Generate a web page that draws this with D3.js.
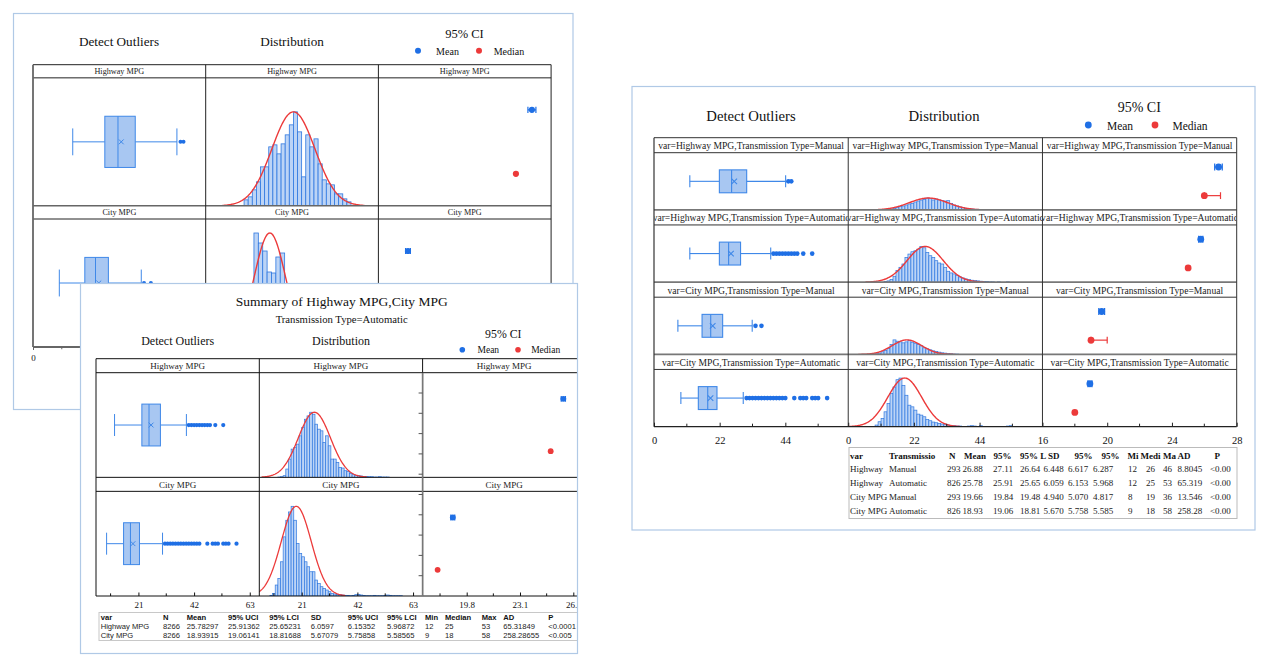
<!DOCTYPE html>
<html><head><meta charset="utf-8">
<script src="https://cdn.jsdelivr.net/npm/d3@7"></script>
<style>html,body{margin:0;padding:0;background:#fff;}svg{display:block;}</style>
</head><body>
<svg id="chart" width="1269" height="666"></svg>
<script>
// ================= DATA =================
// --- back panel (partly hidden) ---
const backVars = ["Highway MPG", "City MPG"];
const backBoxStats = [[14.5, 26.2, 31.0, 37.3, 52.5], [9.6, 18.9, 22.8, 27.5, 39.5]]; // whiskerLo, Q1, median, Q3, whiskerHi
const backBoxMean = [32.2, 24.0];
const backOutliers = [[53.8, 54.9], [40.5, 43.0]];
const backHistStart = [14, 17.6];
const backHistBin = [1.5, 1.6];
const backHistCounts = [
  [6, 9, 16, 24, 39, 39, 59, 61, 52, 62, 71, 81, 94, 74, 29, 71, 59, 67, 42, 26, 22, 21, 12, 12, 7, 4],
  [114, 104, 96, 75, 74, 90, 94]
];
const backFitMean = [32.0, 23.4];
const backFitSD = [7.85, 5.8];
const backMean = [26.0, 18.25];
const backMeanLo = [25.75, 18.1];
const backMeanHi = [26.25, 18.4];
const backMedian = [25, 17.2];
const backMedianLo = [25, 17.2];
const backMedianHi = [25, 17.2];
const backTicks = [0, 21, 42, 63];
const backMinorTicks = [10.5, 31.5, 52.5];

// --- front panel ---
const frontTitle = "Summary of Highway MPG,City MPG";
const frontSubtitle = "Transmission Type=Automatic";
const frontVars = ["Highway MPG", "City MPG"];
const frontBoxStats = [[12, 22.3, 25, 29.3, 39.1], [9, 15.4, 18, 21.4, 30.1]];
const frontMean = [25.78297, 18.93915];
const frontMeanLo = [25.65231, 18.81688];
const frontMeanHi = [25.91362, 19.06141];
const frontSD = [6.0597, 5.67079];
const frontMedian = [25, 18];
const frontMedianLo = [25, 18];
const frontMedianHi = [25, 18];
const frontOutliers = [
  [40, 41, 42, 43, 44, 45, 46, 47, 48, 50, 53],
  [31, 32, 33, 34, 35, 36, 37, 38, 39, 40, 41, 42, 43, 44, 47, 49, 50, 51, 53, 54, 55, 58]
];
const frontHistStart = [12, 9];
const frontHistCounts = [
  [1, 2, 5, 25, 55, 85, 90, 100, 125, 150, 175, 185, 196, 190, 160, 145, 140, 105, 125, 95, 55, 55, 45, 30, 28, 20, 18, 12, 8, 6, 5, 4, 3, 3, 2, 2, 1, 1, 2, 1, 1, 1],
  [2, 8, 33, 53, 103, 178, 228, 253, 270, 228, 158, 128, 118, 103, 88, 73, 73, 48, 38, 28, 23, 18, 13, 8, 6, 5, 4, 3, 2, 2, 1, 2, 4, 5, 3, 2, 1, 1, 1, 2, 1, 1, 1, 2, 3, 2, 1, 1, 1, 1]
];
const frontTicks = [21, 42, 63];
const frontMinorTicks = [10.5, 31.5, 52.5];
const frontCITicks = [19.8, 23.1, 26.4];
const frontCIMinorTicks = [18.15, 21.45, 24.75];
const frontCIAxisTicks = [1, 2, 3, 4, 5, 6, 7, 8, 9, 10];
const frontTableHead = ["var", "N", "Mean", "95% UCI", "95% LCI", "SD", "95% UCI", "95% LCI", "Min", "Median", "Max", "AD", "P"];
const frontTableRows = [
  ["Highway MPG", "8266", "25.78297", "25.91362", "25.65231", "6.0597", "6.15352", "5.96872", "12", "25", "53", "65.31849", "<0.0001"],
  ["City MPG", "8266", "18.93915", "19.06141", "18.81688", "5.67079", "5.75858", "5.58565", "9", "18", "58", "258.28655", "<0.005"]
];

// --- right panel ---
const rightVars = ["Highway MPG", "Highway MPG", "City MPG", "City MPG"];
const rightTrans = ["Manual", "Automatic", "Manual", "Automatic"];
const rightBoxStats = [
  [12, 21.9, 26, 31.05, 44.1],
  [12, 21.9, 25, 29.0, 39.1],
  [8, 16.1, 19, 23.0, 32.9],
  [9, 14.85, 18, 21.1, 29.9]
];
const rightMean = [26.88, 25.78, 19.66, 18.93];
const rightMeanLo = [26.64, 25.65, 19.48, 18.81];
const rightMeanHi = [27.11, 25.91, 19.84, 19.06];
const rightSD = [6.448, 6.059, 4.940, 5.670];
const rightMedian = [26, 25, 19, 18];
const rightMedianLo = [26, 25, 19, 18];
const rightMedianHi = [27, 25, 20, 18];
const rightOutliers = [
  [45, 46],
  [40, 41, 42, 43, 44, 45, 46, 47, 48, 50, 53],
  [34, 36],
  [31, 32, 33, 34, 35, 36, 37, 38, 39, 40, 41, 42, 43, 44, 47, 49, 50, 51, 53, 54, 55, 58]
];
const rightHistStart = [12, 12, 8, 9];
const rightHistCounts = [
  [1, 2, 3, 5, 7, 10, 12, 15, 18, 20, 24, 27, 30, 32, 36, 34, 30, 33, 30, 28, 27, 28, 20, 15, 12, 9, 7, 5, 4, 3, 2, 2, 1, 1, 1],
  [2, 4, 8, 18, 35, 45, 55, 75, 85, 92, 95, 100, 108, 104, 90, 80, 75, 65, 58, 55, 45, 33, 28, 25, 20, 16, 13, 10, 8, 6, 5, 4, 3, 2, 2, 1, 1, 0, 1, 0, 0, 1],
  [1, 2, 4, 8, 12, 18, 30, 44, 40, 38, 35, 38, 42, 37, 34, 30, 26, 20, 17, 14, 11, 9, 7, 5, 4, 3, 2, 1, 1],
  [5, 15, 25, 45, 70, 100, 120, 142, 147, 125, 95, 65, 60, 50, 38, 35, 30, 22, 18, 14, 12, 10, 8, 6, 5, 4, 3, 2, 2, 1, 1, 2, 3, 2, 1, 3, 1, 1, 1, 1, 1, 1, 1, 1, 2, 3, 1, 1, 1, 1]
];
const rightTicks = [0, 22, 44];
const rightMinorTicks = [11, 33, 55];
const rightCITicks = [16, 20, 24, 28];
const rightCIMinorTicks = [18, 22, 26];
const rightTableHead = ["var", "Transmissio", "N", "Mean", "95%", "95% L", "SD", "95%", "95%", "Mi", "Medi", "Ma", "AD", "P"];
const rightTableRows = [
  ["Highway", "Manual", "293", "26.88", "27.11", "26.64", "6.448", "6.617", "6.287", "12", "26", "46", "8.8045", "<0.00"],
  ["Highway", "Automatic", "826", "25.78", "25.91", "25.65", "6.059", "6.153", "5.968", "12", "25", "53", "65.319", "<0.00"],
  ["City MPG", "Manual", "293", "19.66", "19.84", "19.48", "4.940", "5.070", "4.817", "8", "19", "36", "13.546", "<0.00"],
  ["City MPG", "Automatic", "826", "18.93", "19.06", "18.81", "5.670", "5.758", "5.585", "9", "18", "58", "258.28", "<0.00"]
];

// ================= STYLE =================
const BLUE = "#1f6fe5", RED = "#ec3a3a";
const BOXFILL = "#a8c7f2", BOXLINE = "#3f88e8";
const BARFILL = "#bcd4f6", BARLINE = "#2f78e0";
const PANELBORDER = "#b0c9e6";
const SERIF = "'Liberation Serif','Times New Roman',serif";
const SANS = "'Liberation Sans',Arial,sans-serif";

const svg = d3.select("#chart");

function buildRows(labels, box, boxMean, outl, hStart, hBin, hCounts, fMean, fSD, m, mLo, mHi, md, mdLo, mdHi) {
  return labels.map((lab, i) => ({
    label: lab, box: box[i], boxMean: boxMean[i], outliers: outl[i],
    hist: {start: hStart[i], bin: hBin[i], counts: hCounts[i]},
    fitMean: fMean[i], fitSD: fSD[i],
    ci: [{k: "Mean", v: m[i], lo: mLo[i], hi: mHi[i], c: BLUE}, {k: "Median", v: md[i], lo: mdLo[i], hi: mdHi[i], c: RED}]
  }));
}

function text(g, x, y, s, size, opts = {}) {
  return g.append("text").attr("x", x).attr("y", y).attr("text-anchor", opts.anchor || "middle")
    .attr("dominant-baseline", "central").attr("font-family", opts.font || SERIF)
    .attr("font-size", size).attr("font-weight", opts.weight || "normal").attr("fill", opts.fill || "#111").text(s);
}

function legend(g, T) {
  text(g, T.titleX, T.ciY, "95% CI", T.ciSize);
  g.append("circle").attr("cx", T.d1).attr("cy", T.legY).attr("r", T.dotR).attr("fill", BLUE);
  text(g, T.meanX, T.legY + 0.5, "Mean", T.legSize);
  g.append("circle").attr("cx", T.d2).attr("cy", T.legY).attr("r", T.dotR).attr("fill", RED);
  text(g, T.medX, T.legY + 0.5, "Median", T.legSize);
}

function drawAxis(g, scale, y, major, minor, L) {
  const ax = g.append("g").attr("transform", `translate(0,${y})`)
    .call(d3.axisBottom(scale).tickValues(major).tickFormat(d => String(d))
      .tickSize(L.tickSize).tickSizeOuter(0).tickPadding(L.tickPad));
  ax.select(".domain").remove();
  ax.attr("font-family", SERIF).attr("font-size", L.tickFont);
  ax.selectAll(".tick line").attr("stroke", L.axisColor);
  ax.selectAll(".tick text").attr("fill", "#111");
  g.append("g").selectAll("line").data(minor).join("line")
    .attr("x1", d => scale(d)).attr("x2", d => scale(d))
    .attr("y1", y).attr("y2", y + L.tickSize * 0.75).attr("stroke", L.axisColor);
}

function drawPanel(root, L, rows, axisSets) {
  const g = root.append("g");
  const cols = [0, 1, 2].map(c => L.x0 + c * L.colW);
  const xBox = d3.scaleLinear().domain(L.xDomain).range([cols[0], cols[0] + L.colW]);
  const xHist = d3.scaleLinear().domain(L.xDomain).range([cols[1], cols[1] + L.colW]);
  const xCI = d3.scaleLinear().domain(L.ciDomain).range([cols[2], cols[2] + L.colW]);
  const rowH = L.headH + L.plotH;
  const bottom = L.top + rows.length * rowH;
  const right = cols[2] + L.colW;

  rows.forEach((r, i) => {
    const ht = L.top + i * rowH, pt = ht + L.headH, pb = pt + L.plotH;
    const y = d3.scaleLinear().domain([0, L.yMax]).range([pb, pt]);
    // headers
    cols.forEach((cx, c) => {
      const cid = `${L.id}-h${i}${c}`;
      g.append("clipPath").attr("id", cid).append("rect")
        .attr("x", cx + 0.5).attr("y", ht).attr("width", L.colW - 1).attr("height", L.headH);
      text(g, cx + L.colW / 2, ht + L.headH / 2 + 0.5, r.label, L.headSize, {fill: "#222"})
        .attr("clip-path", `url(#${cid})`);
    });
    // box plot
    const cy = (pt + pb) / 2, bh = L.plotH * 0.4, capH = L.plotH * 0.21;
    const [lo, q1, med, q3, hi] = r.box;
    const bg = g.append("g").attr("stroke", BOXLINE).attr("stroke-width", L.boxStroke).attr("fill", "none");
    bg.append("line").attr("x1", xBox(lo)).attr("x2", xBox(q1)).attr("y1", cy).attr("y2", cy);
    bg.append("line").attr("x1", xBox(q3)).attr("x2", xBox(hi)).attr("y1", cy).attr("y2", cy);
    [lo, hi].forEach(v => bg.append("line").attr("x1", xBox(v)).attr("x2", xBox(v))
      .attr("y1", cy - capH / 2).attr("y2", cy + capH / 2));
    bg.append("rect").attr("x", xBox(q1)).attr("y", cy - bh / 2)
      .attr("width", xBox(q3) - xBox(q1)).attr("height", bh).attr("fill", BOXFILL);
    bg.append("line").attr("x1", xBox(med)).attr("x2", xBox(med)).attr("y1", cy - bh / 2).attr("y2", cy + bh / 2);
    const mx = xBox(r.boxMean), ms = L.meanMark;
    bg.append("path").attr("d", `M${mx - ms},${cy - ms}L${mx + ms},${cy + ms}M${mx - ms},${cy + ms}L${mx + ms},${cy - ms}`);
    g.append("g").selectAll("circle").data(r.outliers).join("circle")
      .attr("cx", d => xBox(d)).attr("cy", cy).attr("r", L.outR).attr("fill", BLUE);
    // histogram + fitted normal curve
    const hid = `${L.id}-p${i}`;
    g.append("clipPath").attr("id", hid).append("rect")
      .attr("x", cols[1]).attr("y", pt).attr("width", L.colW).attr("height", L.plotH);
    const hg = g.append("g").attr("clip-path", `url(#${hid})`);
    const h = r.hist;
    hg.selectAll("rect").data(h.counts).join("rect")
      .attr("x", (d, k) => xHist(h.start + k * h.bin))
      .attr("width", (d, k) => xHist(h.start + (k + 1) * h.bin) - xHist(h.start + k * h.bin))
      .attr("y", d => y(d)).attr("height", d => pb - y(d))
      .attr("fill", BARFILL).attr("stroke", BARLINE).attr("stroke-width", L.barStroke);
    const peak = d3.max(h.counts);
    const xs = d3.range(r.fitMean - 3.3 * r.fitSD, r.fitMean + 3.3 * r.fitSD, r.fitSD / 30);
    hg.append("path").datum(xs)
      .attr("d", d3.line().x(v => xHist(v)).y(v => y(peak * Math.exp(-0.5 * ((v - r.fitMean) / r.fitSD) ** 2))))
      .attr("fill", "none").attr("stroke", RED).attr("stroke-width", L.curveStroke);
    // confidence intervals
    const yb = d3.scaleBand().domain(["Mean", "Median"]).range([pt, pb]);
    r.ci.forEach(d => {
      const yy = yb(d.k) + yb.bandwidth() / 2;
      if (d.hi > d.lo) {
        const eg = g.append("g").attr("stroke", d.c).attr("stroke-width", 1.2);
        eg.append("line").attr("x1", xCI(d.lo)).attr("x2", xCI(d.hi)).attr("y1", yy).attr("y2", yy);
        [d.lo, d.hi].forEach(v => eg.append("line").attr("x1", xCI(v)).attr("x2", xCI(v))
          .attr("y1", yy - L.dotR).attr("y2", yy + L.dotR));
      }
      g.append("circle").attr("cx", xCI(d.v)).attr("cy", yy).attr("r", L.dotR).attr("fill", d.c);
    });
  });

  // grid lines
  const gl = g.append("g").attr("fill", "none");
  rows.forEach((r, i) => {
    const ht = L.top + i * rowH, pt = ht + L.headH;
    gl.append("line").attr("x1", cols[0]).attr("x2", right).attr("y1", ht).attr("y2", ht)
      .attr("stroke", i === 0 ? L.lineColor : L.sepColor).attr("stroke-width", i === 0 ? 1 : L.sepWidth);
    gl.append("line").attr("x1", cols[0]).attr("x2", right).attr("y1", pt).attr("y2", pt)
      .attr("stroke", L.lineColor).attr("stroke-width", 1);
  });
  [cols[0], cols[1], cols[2], right].forEach((x, k) => {
    gl.append("line").attr("x1", x).attr("x2", x).attr("y1", L.top).attr("y2", bottom)
      .attr("stroke", k === 0 ? L.leftColor : L.lineColor).attr("stroke-width", k === 0 ? L.leftWidth : 1);
  });
  gl.append("line").attr("x1", cols[0]).attr("x2", right).attr("y1", bottom).attr("y2", bottom)
    .attr("stroke", L.axisColor).attr("stroke-width", L.axisWidth);

  // axes
  drawAxis(g, xBox, bottom, axisSets.box, axisSets.boxMinor, L);
  drawAxis(g, xHist, bottom, axisSets.box, axisSets.boxMinor, L);
  drawAxis(g, xCI, bottom, axisSets.ci, axisSets.ciMinor, L);
  return {g, cols, bottom, top: L.top, headH: L.headH};
}

function drawTable(root, T, head, rows) {
  const g = root.append("g");
  g.append("rect").attr("x", T.x).attr("y", T.y).attr("width", T.w).attr("height", T.h)
    .attr("fill", "#fff").attr("stroke", T.border).attr("stroke-width", 1);
  head.forEach((s, c) => text(g, T.headX[c], T.rowY[0], s, T.size, {anchor: "start", font: T.font, weight: "bold"}));
  rows.forEach((row, r) => row.forEach((s, c) =>
    text(g, T.valX[c], T.rowY[r + 1], s, T.size, {anchor: "start", font: T.font, fill: "#222"})));
}

// ================= BACK PANEL =================
{
  const P = {x: 13.5, y: 13.5, w: 559.5, h: 396};
  const root = svg.append("g");
  root.append("clipPath").attr("id", "clipA").append("rect").attr("x", P.x).attr("y", P.y).attr("width", P.w).attr("height", P.h);
  root.append("rect").attr("x", P.x).attr("y", P.y).attr("width", P.w).attr("height", P.h).attr("fill", "#fff");
  const g = root.append("g").attr("clip-path", "url(#clipA)");
  text(g, 119, 41, "Detect Outliers", 13.2);
  text(g, 292, 41, "Distribution", 13.2);
  legend(g, {titleX: 464.5, ciY: 34.3, ciSize: 12.5, d1: 418, d2: 479, legY: 50.7, dotR: 3, meanX: 447.5, medX: 509, legSize: 10});
  const rows = buildRows(backVars, backBoxStats, backBoxMean, backOutliers, backHistStart, backHistBin, backHistCounts,
    backFitMean, backFitSD, backMean, backMeanLo, backMeanHi, backMedian, backMedianLo, backMedianHi);
  drawPanel(g, {id: "A", x0: 33, colW: 172.7, top: 64.7, headH: 13.15, plotH: 128, xDomain: [0, 63], ciDomain: [16.4, 27.2],
    yMax: 128, headSize: 8.2, outR: 2, meanMark: 2.4, dotR: 3.1, boxStroke: 1, barStroke: 0.8, curveStroke: 1.4,
    lineColor: "#222", sepColor: "#666", sepWidth: 1.5, leftColor: "#666", leftWidth: 1.8, axisColor: "#666", axisWidth: 1.8,
    tickSize: 3, tickPad: 4.5, tickFont: 9}, rows,
    {box: backTicks, boxMinor: backMinorTicks, ci: [], ciMinor: []});
  root.append("rect").attr("x", P.x).attr("y", P.y).attr("width", P.w).attr("height", P.h)
    .attr("fill", "none").attr("stroke", PANELBORDER).attr("stroke-width", 1.2);
}

// ================= FRONT PANEL =================
{
  const P = {x: 80.5, y: 283.5, w: 497, h: 370};
  const root = svg.append("g");
  root.append("clipPath").attr("id", "clipB").append("rect").attr("x", P.x).attr("y", P.y).attr("width", P.w).attr("height", P.h);
  root.append("rect").attr("x", P.x).attr("y", P.y).attr("width", P.w).attr("height", P.h).attr("fill", "#fff");
  const g = root.append("g").attr("clip-path", "url(#clipB)");
  text(g, 341.7, 301.7, frontTitle, 13.5);
  text(g, 341.7, 319.3, frontSubtitle, 10.7);
  text(g, 177.7, 341.3, "Detect Outliers", 12);
  text(g, 341, 341.3, "Distribution", 12);
  legend(g, {titleX: 503.3, ciY: 334, ciSize: 11.8, d1: 462.3, d2: 518, legY: 349.7, dotR: 2.8, meanX: 488.3, medX: 545.7, legSize: 9.5});
  const rows = buildRows(frontVars, frontBoxStats, frontMean, frontOutliers, frontHistStart, [1, 1], frontHistCounts,
    frontMean, frontSD, frontMean, frontMeanLo, frontMeanHi, frontMedian, frontMedianLo, frontMedianHi);
  const L = {id: "B", x0: 96, colW: 163.3, top: 358.7, headH: 14, plotH: 104.65, xDomain: [5.0, 66.6], ciDomain: [17.07, 27.18],
    yMax: 315, headSize: 9, outR: 2.1, meanMark: 2.4, dotR: 2.9, boxStroke: 1, barStroke: 0.7, curveStroke: 1.3,
    lineColor: "#111", sepColor: "#111", sepWidth: 1, leftColor: "#111", leftWidth: 1, axisColor: "#111", axisWidth: 1,
    tickSize: -3.5, tickPad: 5.8, tickFont: 9};
  const res = drawPanel(g, L, rows, {box: frontTicks, boxMinor: frontMinorTicks, ci: frontCITicks, ciMinor: frontCIMinorTicks});
  // y-axis tick marks on the CI column
  const yT = d3.scaleLinear().domain([0, 11]).range([L.top + L.headH, res.bottom]);
  const cx = res.cols[2];
  g.append("line").attr("x1", cx).attr("x2", cx).attr("y1", L.top + L.headH).attr("y2", res.bottom).attr("stroke", "#777").attr("stroke-width", 1.6);
  g.append("g").selectAll("line").data(frontCIAxisTicks).join("line")
    .attr("x1", cx - 4).attr("x2", cx).attr("y1", d => yT(d)).attr("y2", d => yT(d)).attr("stroke", "#555");
  drawTable(g, {x: 99, y: 612.5, w: 500, h: 28, border: "#c8c8c8", font: SANS, size: 7.6,
    headX: [100.7, 163, 186.7, 228, 269.3, 310.7, 347.7, 387, 425, 445, 481.7, 503.3, 548.3],
    valX: [100.7, 163, 186.7, 228, 269.3, 310.7, 347.7, 387, 425, 445, 481.7, 503.3, 548.3],
    rowY: [617, 626.7, 635.8]}, frontTableHead, frontTableRows);
  root.append("rect").attr("x", P.x).attr("y", P.y).attr("width", P.w).attr("height", P.h)
    .attr("fill", "none").attr("stroke", PANELBORDER).attr("stroke-width", 1.2);
}

// ================= RIGHT PANEL =================
{
  const P = {x: 632, y: 86.5, w: 623, h: 443.5};
  const root = svg.append("g");
  root.append("rect").attr("x", P.x).attr("y", P.y).attr("width", P.w).attr("height", P.h)
    .attr("fill", "#fff").attr("stroke", PANELBORDER).attr("stroke-width", 1.2);
  const g = root.append("g");
  text(g, 751, 115.7, "Detect Outliers", 14.7);
  text(g, 944, 115.7, "Distribution", 14.7);
  legend(g, {titleX: 1139.3, ciY: 107.7, ciSize: 14, d1: 1088.3, d2: 1155, legY: 125, dotR: 3.4, meanX: 1120, medX: 1190, legSize: 11.5});
  const labels = rightVars.map((v, i) => `var=${v},Transmission Type=${rightTrans[i]}`);
  const rows = buildRows(labels, rightBoxStats, rightMean, rightOutliers, rightHistStart, [1, 1, 1, 1], rightHistCounts,
    rightMean, rightSD, rightMean, rightMeanLo, rightMeanHi, rightMedian, rightMedianLo, rightMedianHi);
  drawPanel(g, {id: "C", x0: 654, colW: 194.23, top: 137.7, headH: 15, plotH: 57.25, xDomain: [0, 65.07], ciDomain: [16, 28],
    yMax: 173, headSize: 9.6, outR: 2.3, meanMark: 2.8, dotR: 3.4, boxStroke: 1.1, barStroke: 0.7, curveStroke: 1.4,
    lineColor: "#333", sepColor: "#777", sepWidth: 1.8, leftColor: "#333", leftWidth: 1.2, axisColor: "#222", axisWidth: 1.2,
    tickSize: -4, tickPad: 9.5, tickFont: 10.5}, rows,
    {box: rightTicks, boxMinor: rightMinorTicks, ci: rightCITicks, ciMinor: rightCIMinorTicks});
  drawTable(g, {x: 849, y: 447.5, w: 388, h: 71, border: "#bbbbbb", font: SERIF, size: 9,
    headX: [850, 889, 949, 964, 993.5, 1020, 1048, 1074.5, 1101.5, 1127.5, 1140.5, 1163, 1177.5, 1214.5],
    valX: [850, 889, 947, 962.5, 993, 1020, 1043.5, 1068, 1093, 1128, 1146, 1163, 1177.5, 1210],
    rowY: [455.5, 469.2, 483.2, 497.2, 511.2]}, rightTableHead, rightTableRows);
}
</script>
</body></html>
